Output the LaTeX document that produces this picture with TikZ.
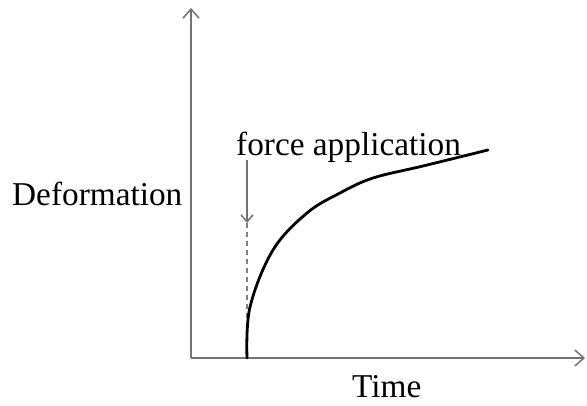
\documentclass[tikz,border=0pt]{standalone}
\usepackage{fontspec}
\setmainfont{Liberation Serif}
\usetikzlibrary{arrows.meta}
\tikzset{
  axisline/.style={draw=black!55, line width=1.6pt, -{Straight Barb[length=9pt,width=16pt,line width=1.5pt]}},
  guideline/.style={draw=black!55, line width=1.5pt, -{Straight Barb[length=7pt,width=12pt,line width=1.5pt]}},
  dashline/.style={draw=black!50, line width=1.5pt, dash pattern=on 5pt off 4pt},
  curveline/.style={draw=black, line width=2.8pt, line cap=round},
  lbl/.style={inner sep=0pt, anchor=base west, font=\fontsize{33.3}{40}\selectfont}
}
\begin{document}
\begin{tikzpicture}[x=1pt,y=-1pt]
\useasboundingbox (0,0) rectangle (587,406);
\coordinate (O) at (191,358);
\coordinate (ytop) at (191,8);
\coordinate (xend) at (585,358);
\coordinate (start) at (247,358);
\coordinate (dashtop) at (247,223);
\coordinate (arrtop) at (247,160);
\coordinate (dashend) at (247,318);
\draw[axisline] (O) -- (ytop);
\draw[axisline] (O) -- (xend);
\draw[guideline] (arrtop) -- (dashtop);
\draw[dashline] (dashtop) -- (dashend);
\draw[curveline] plot[smooth, tension=0.6] coordinates {(247,358) (250,307) (273,250) (307,213) (340,193) (373,178) (423,166) (488,150)};
\node[lbl] (force) at (236,156) {force application};
\node[lbl] (deform) at (12,206) {Deformation};
\node[lbl] (time) at (352,397) {Time};
\end{tikzpicture}
\end{document}
